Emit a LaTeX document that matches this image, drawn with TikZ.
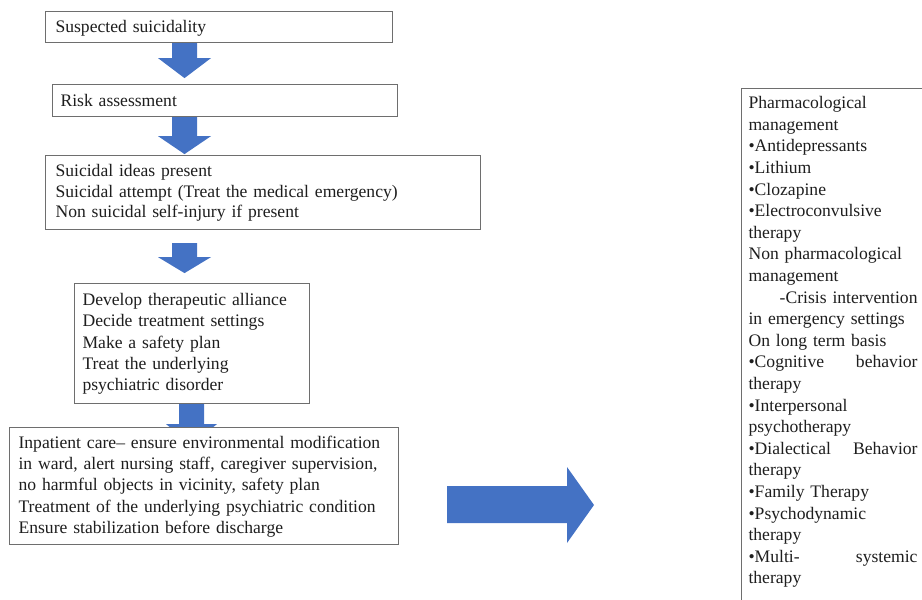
\documentclass[tikz,border=0pt]{standalone}
\usepackage{fontspec}
\setmainfont{Liberation Serif}
\usetikzlibrary{calc}
\definecolor{arrowblue}{HTML}{4472C4}
\definecolor{boxline}{HTML}{6E6E6E}
\definecolor{inktext}{HTML}{1E1E1E}
\tikzset{
  flowbox/.style={rectangle, draw=boxline, line width=1.1pt, fill=white,
    anchor=north west, align=left, text=inktext, inner ysep=0pt,
    font=\fontsize{17.6}{21.3}\selectfont},
  blockarrow/.style={fill=arrowblue},
}
\begin{document}
\begin{tikzpicture}[x=1pt,y=-1pt]
\useasboundingbox (0,0) rectangle (922,600);
\clip (0,0) rectangle (922,600);

% left column of steps
\node[flowbox, inner xsep=10pt, text width=327pt, minimum height=31pt] (b1) at (45,11)
  {\rule{0pt}{15pt}Suspected suicidality};
\node[flowbox, inner xsep=8pt, text width=329pt, minimum height=32pt] (b2) at (52,84)
  {Risk assessment};
\node[flowbox, inner xsep=10pt, text width=415pt, minimum height=74pt,
      font=\fontsize{17.6}{20.5}\selectfont] (b3) at (45,155)
  {\rule{0pt}{13pt}Suicidal ideas present\\
   Suicidal attempt (Treat the medical emergency)\\
   Non suicidal self-injury if present};
\node[flowbox, inner xsep=8pt, text width=219pt, minimum height=120pt] (b4) at (74,283)
  {\rule{0pt}{13pt}Develop therapeutic alliance\\
   Decide treatment settings\\
   Make a safety plan\\
   Treat the underlying\\
   psychiatric disorder};

% block arrows between the steps
\fill[blockarrow] ([xshift=127pt]b1.south west) -- ++(0,15) -- ++(-14,0) -- ++(26.5,20)
  -- ++(26.5,-20) -- ++(-14,0) -- ++(0,-15) -- cycle;
\fill[blockarrow] ([xshift=120pt]b2.south west) -- ++(0,19) -- ++(-14,0) -- ++(26.5,18)
  -- ++(26.5,-18) -- ++(-14,0) -- ++(0,-19) -- cycle;
\fill[blockarrow] ([xshift=127pt,yshift=-13pt]b3.south west) -- ++(0,14) -- ++(-14,0) -- ++(26.5,16)
  -- ++(26.5,-16) -- ++(-14,0) -- ++(0,-14) -- cycle;
\fill[blockarrow] ([xshift=105pt]b4.south west) -- ++(0,20) -- ++(-13,0) -- ++(25.5,20)
  -- ++(25.5,-20) -- ++(-13,0) -- ++(0,-20) -- cycle;

\node[flowbox, inner xsep=9pt, text width=371pt, minimum height=117pt] (b5) at (9,427)
  {\rule{0pt}{13.5pt}Inpatient care-- ensure environmental modification\\
   in ward, alert nursing staff, caregiver supervision,\\
   no harmful objects in vicinity, safety plan\\
   Treatment of the underlying psychiatric condition\\
   Ensure stabilization before discharge};

% arrow towards the management panel
\fill[blockarrow] (447,486) -- (567,486) -- (567,467) -- (594,505) -- (567,543)
  -- (567,523) -- (447,523) -- cycle;

% management panel
\node[flowbox, inner xsep=7pt, inner ysep=8pt, text width=169pt,
      font=\fontsize{17.6}{21.6}\selectfont] (mgmt) at (741,88)
  {Pharmacological\\
   management\\
   •Antidepressants\\
   •Lithium\\
   •Clozapine\\
   •Electroconvulsive\\
   therapy\\
   Non pharmacological\\
   management\\
   \hfill-Crisis intervention\\
   in emergency settings\\
   On long term basis\\
   •Cognitive\hfill behavior\\
   therapy\\
   •Interpersonal\\
   psychotherapy\\
   •Dialectical\hfill Behavior\\
   therapy\\
   •Family Therapy\\
   •Psychodynamic\\
   therapy\\
   •Multi-\hfill systemic\\
   therapy\\[30pt]\mbox{}};
\end{tikzpicture}
\end{document}
